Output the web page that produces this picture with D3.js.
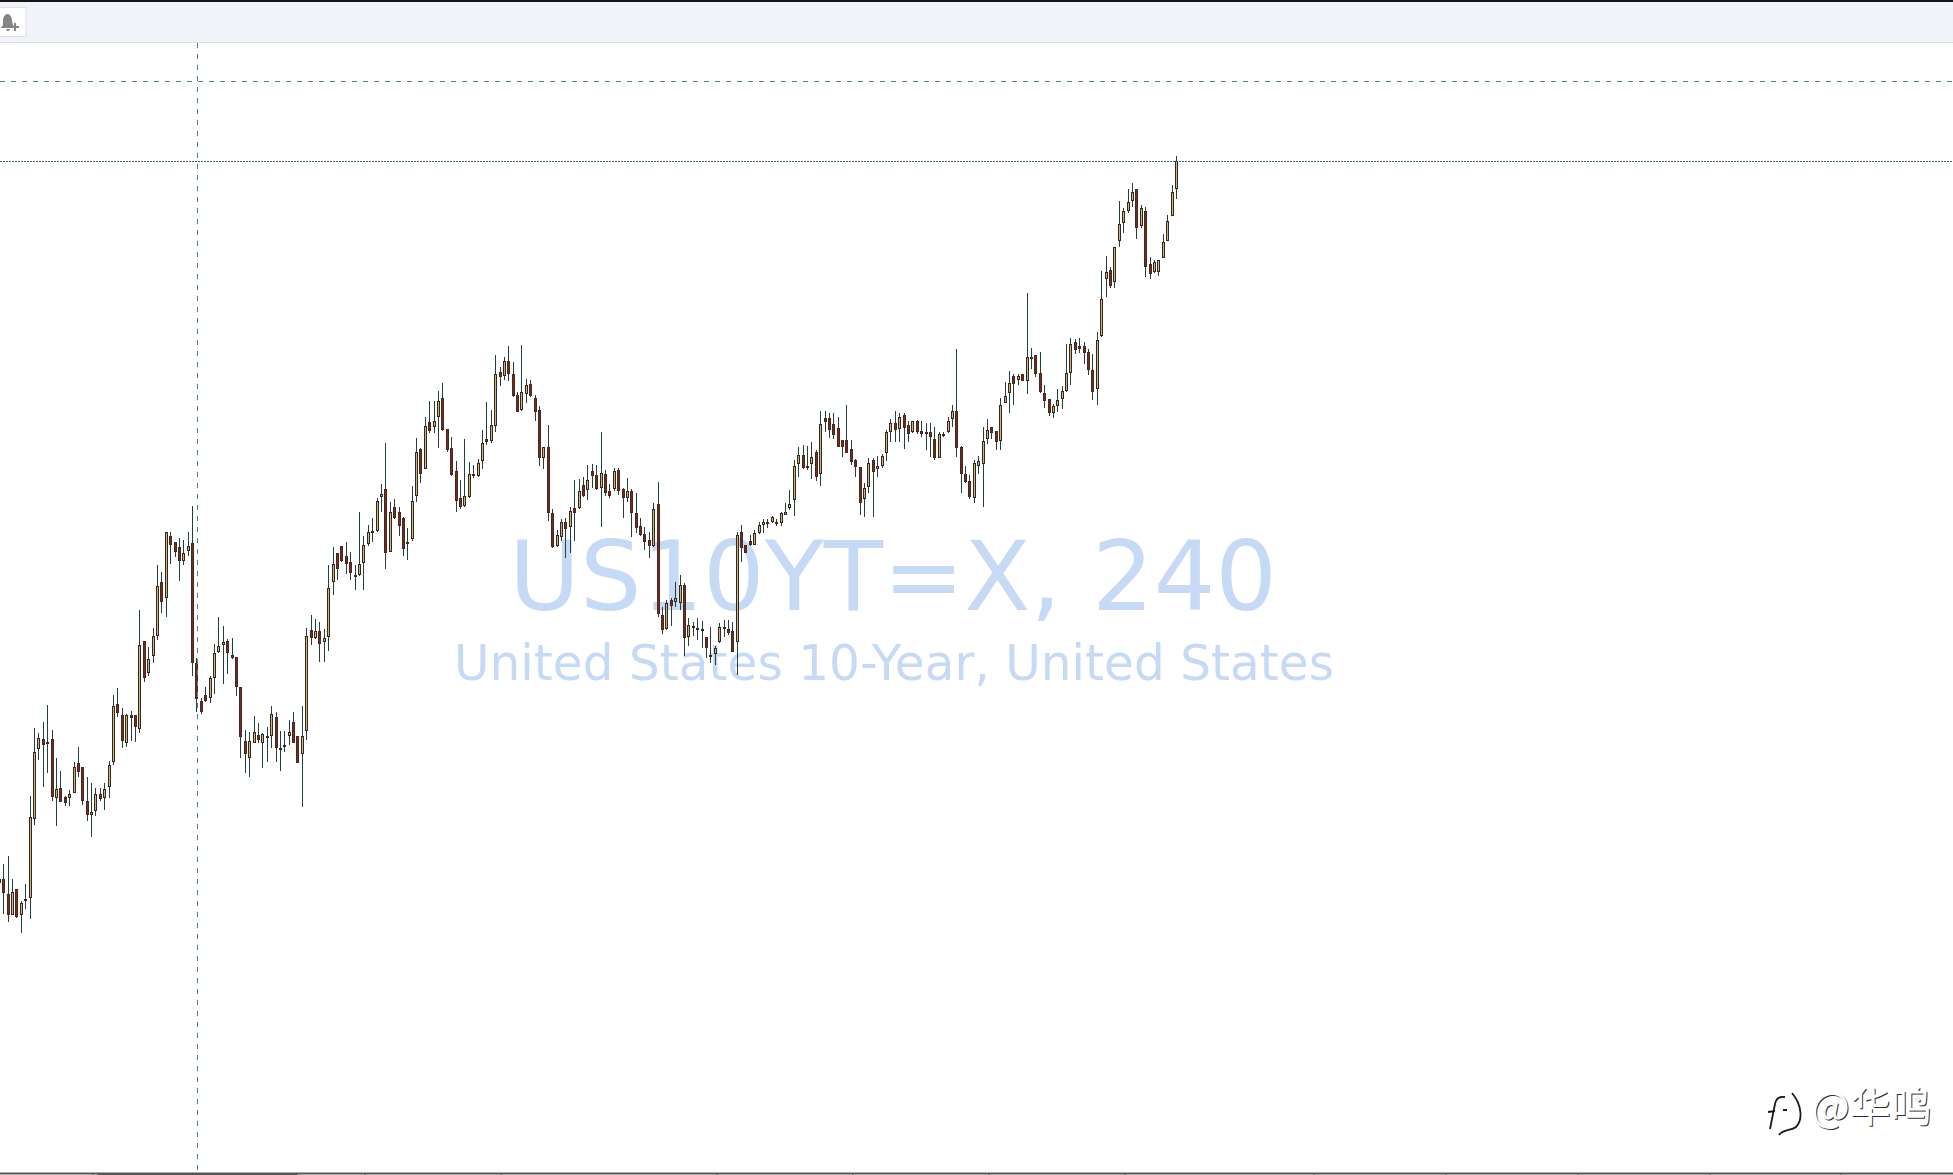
<!DOCTYPE html>
<html>
<head>
<meta charset="utf-8">
<title>US10YT=X, 240</title>
<script src="https://cdn.jsdelivr.net/npm/d3@7/dist/d3.min.js"></script>
<style>
html,body{margin:0;padding:0;background:#fff;overflow:hidden}
svg{display:block}
</style>
</head>
<body>
<svg id="chart" width="1953" height="1175"></svg>
<script>
const symbolLabel = "US10YT=X, 240";
const symbolName = "United States 10-Year, United States";
const handle = "@华鸣";

const highs = [298,311,319,296,286,274,291,379,447,442,
453,470,445,417,404,379,385,413,428,408,
398,392,387,387,392,414,480,487,467,461,
464,460,565,534,528,547,610,603,643,643,
633,637,635,643,669,517,477,488,499,531,
558,549,536,537,518,488,445,443,459,452,
442,448,469,463,444,444,455,463,439,469,
547,560,556,553,546,610,628,622,629,633,
623,610,663,639,650,657,677,691,732,673,
676,668,658,647,689,737,727,758,774,774,
784,792,746,738,714,695,736,713,710,716,
745,773,765,820,808,818,829,813,783,830,
796,795,780,769,728,750,666,645,656,657,
668,695,696,698,710,711,710,743,705,691,
707,707,687,697,686,682,657,648,643,672,
693,568,575,577,593,600,592,557,553,557,
554,538,548,529,552,555,555,553,643,650,
630,640,645,653,656,656,659,656,663,672,
685,715,728,730,729,733,725,764,764,762,
762,758,735,770,735,716,708,692,717,717,
719,721,745,756,764,762,762,754,754,755,
754,752,752,748,743,743,758,770,826,729,
709,700,715,719,748,756,748,744,777,793,
804,801,801,801,882,827,820,823,790,776,
771,786,789,831,837,836,837,833,826,821,
843,904,919,908,928,974,967,986,992,986,
970,968,918,915,915,941,960,990,1019];

const lows = [291,261,253,260,257,242,266,256,350,415,
388,402,374,349,373,369,369,382,398,370,
354,338,359,374,365,377,410,458,427,428,
434,433,442,493,499,512,535,562,558,611,
618,594,610,619,499,463,461,473,472,481,
522,491,501,516,479,417,402,398,432,432,
407,413,427,413,404,423,430,432,412,368,
435,530,536,513,513,524,580,595,613,601,
595,585,599,585,629,633,643,663,606,623,
656,639,619,615,634,673,692,706,742,742,
727,744,723,699,663,666,668,677,697,698,
706,730,732,743,789,795,794,778,763,764,
772,778,754,709,706,654,627,628,634,617,
622,634,666,678,675,687,685,648,679,677,
684,680,657,673,638,642,639,625,617,628,
558,541,545,549,568,565,519,529,539,535,
527,517,512,510,532,538,540,523,500,613,
622,629,630,641,642,647,652,649,649,660,
665,659,698,706,705,696,694,689,743,737,
736,728,718,722,710,698,660,658,682,658,
698,707,714,733,733,733,726,733,742,741,
738,725,718,715,717,738,742,748,718,682,
692,676,672,701,668,731,736,725,725,772,
762,770,790,794,781,806,798,782,767,759,
757,763,766,783,790,821,822,811,800,775,
770,838,878,887,887,928,942,962,968,936,
947,898,896,902,899,917,934,959,976];

const opens = [292,296,281,260,286,260,276,277,356,426,
436,433,436,377,387,378,377,382,412,408,
374,360,364,381,377,388,413,471,460,432,
460,460,446,534,502,519,539,593,577,639,
633,628,614,624,632,512,474,480,477,497,
523,530,534,520,518,488,434,417,432,440,
432,439,439,458,425,428,439,453,439,421,
444,545,537,544,533,538,593,622,629,619,
613,600,600,612,631,643,644,678,686,623,
668,663,657,633,636,679,726,706,753,748,
758,777,746,727,704,677,669,678,701,699,
714,736,734,749,803,799,814,801,780,765,
781,791,777,765,717,728,662,629,638,653,
648,667,667,690,685,704,700,687,701,684,
686,705,686,677,684,662,649,641,635,629,
671,560,546,575,573,572,590,538,547,545,
544,538,520,521,533,548,546,544,533,643,
630,634,630,642,650,652,653,653,652,660,
667,675,711,720,707,711,723,701,757,757,
751,747,735,735,726,715,708,676,688,715,
706,709,722,743,752,746,760,750,743,754,
744,743,743,736,717,740,743,756,764,728,
701,694,677,709,711,736,748,744,734,772,
782,799,795,801,794,818,820,802,782,776,
762,769,776,784,802,833,829,829,823,805,
786,839,896,905,893,934,952,964,974,986,
949,964,911,903,903,917,934,959,986];

const closes = [296,282,260,283,258,272,274,358,423,437,
430,431,378,386,373,372,381,408,403,374,
360,363,381,376,386,410,469,462,434,460,
457,448,530,497,516,539,589,573,643,630,
623,614,622,629,512,476,463,474,497,522,
529,533,522,517,488,438,421,434,443,435,
441,438,461,427,427,430,443,432,412,439,
539,537,544,531,537,587,611,606,614,611,
602,599,611,630,643,644,674,681,622,663,
657,649,626,632,674,723,701,749,744,754,
774,745,725,700,674,668,679,701,699,712,
732,733,750,801,798,814,801,779,763,783,
790,779,763,717,728,662,628,640,653,646,
664,662,684,679,695,699,686,702,682,679,
704,684,677,684,662,647,640,633,629,666,
561,545,572,569,577,590,537,550,549,547,
546,527,518,527,548,546,542,523,640,627,
622,630,642,650,653,653,658,651,662,663,
671,709,720,707,709,718,698,751,753,745,
740,728,728,722,713,708,672,687,712,703,
709,719,743,752,745,758,747,741,754,743,
741,742,738,717,741,741,754,764,727,701,
693,678,712,714,734,745,742,733,770,779,
792,791,799,794,818,816,801,783,774,762,
769,775,784,802,831,825,826,822,805,783,
835,876,903,889,928,951,964,973,983,947,
967,908,901,913,915,933,954,983,1014];

const alertLevel = 1094;
const lastPrice = 1014;
const crosshairBar = 45.1;
const axisTickBars = [21.2,83.1,114.1,163.3,194.2,225.2,256.2,299.2,329.3,359.3,389.4,419.2];
const highlightedBars = [22.4,67.9];

const W = 1953, H = 1175;
const svg = d3.select("#chart");
const x = d3.scaleLinear().domain([0,445]).range([-0.66,1953.78]);
const y = d3.scaleLinear().domain([0,1175]).range([1175,0]);

// toolbar
svg.append("rect").attr("width",W).attr("height",43).attr("fill","#f0f3f7");
svg.append("rect").attr("width",W).attr("height",2).attr("fill","#161616");
svg.append("rect").attr("y",42).attr("width",W).attr("height",1).attr("fill","#dbdee2");
svg.append("rect").attr("x",-2).attr("y",7.5).attr("width",28).attr("height",29)
  .attr("fill","#fff").attr("stroke","#dcdee1");
svg.append("path").attr("fill","#858585")
  .attr("d","M1 28 L3 25 L3 21 C3 17 5 14 7.5 14 C10 14 12 17 12 21 L13 25 L15 28 Z M6 29 L10 29 L9 31 L7 31 Z");
svg.append("path").attr("stroke","#858585").attr("stroke-width",2).attr("fill","none")
  .attr("d","M11 27 L19 27 M15 23 L15 31");

// symbol watermark
svg.append("text").text(symbolLabel)
  .attr("x",509).attr("y",610)
  .attr("textLength",768).attr("lengthAdjust","spacingAndGlyphs")
  .attr("font-family","DejaVu Sans").attr("font-size",97).attr("fill","#c6daf5");
svg.append("text").text(symbolName)
  .attr("x",454).attr("y",680)
  .attr("textLength",880).attr("lengthAdjust","spacingAndGlyphs")
  .attr("font-family","DejaVu Sans").attr("font-size",49).attr("fill","#c6daf5");

// candles
const idx = d3.range(highs.length);
const px = i => Math.floor(x(i));
const isUp = i => closes[i] >= opens[i];

svg.append("g").selectAll("line").data(idx).join("line")
  .attr("x1",i=>px(i)+.5).attr("x2",i=>px(i)+.5)
  .attr("y1",i=>y(highs[i])).attr("y2",i=>y(lows[i]))
  .attr("stroke","#1f423a").attr("stroke-width",1);

svg.append("g").selectAll("rect").data(idx).join("rect")
  .attr("x",i=>px(i)-.5).attr("width",2)
  .attr("y",i=>Math.round(y(Math.max(opens[i],closes[i])))+.5)
  .attr("height",i=>Math.max(1,Math.round(Math.abs(opens[i]-closes[i]))-1))
  .attr("fill",i=>isUp(i)?"#c9b688":"#7a2a20")
  .attr("stroke",i=>isUp(i)?"#35271a":"#4a271c")
  .attr("stroke-width",1);

// levels and crosshair
const lineColor = "#4f8290";
svg.append("line").attr("x1",0).attr("x2",W)
  .attr("y1",Math.round(y(alertLevel))+.5).attr("y2",Math.round(y(alertLevel))+.5)
  .attr("stroke",lineColor).attr("stroke-dasharray","5 6");
svg.append("line").attr("x1",0).attr("x2",W)
  .attr("y1",Math.round(y(lastPrice))+.5).attr("y2",Math.round(y(lastPrice))+.5)
  .attr("stroke","#40606c").attr("stroke-dasharray","2 1");
const cx = Math.floor(x(crosshairBar))+.5;
svg.append("line").attr("x1",cx).attr("x2",cx).attr("y1",43).attr("y2",1173)
  .attr("stroke",lineColor).attr("stroke-dasharray","5 6");

// time axis
const axis = d3.axisBottom(x).tickValues(axisTickBars).tickSize(2).tickSizeOuter(0).tickFormat("");
const axisG = svg.append("g").attr("transform","translate(0,1173)").call(axis);
axisG.select(".domain").attr("stroke","#565656").attr("stroke-width",2).attr("d","M0,0.5H"+W);
axisG.selectAll(".tick line").attr("stroke","#565656");
svg.append("rect")
  .attr("x",x(highlightedBars[0])).attr("y",1173)
  .attr("width",x(highlightedBars[1])-x(highlightedBars[0])).attr("height",2)
  .attr("fill","#565656");

// author mark
const mark = svg.append("g");
[{dx:1,dy:1,f:"#2e2e2e"},{dx:0,dy:0,f:"#ffffff"}].forEach(s=>{
  mark.append("text").text(handle)
    .attr("x",1811+s.dx).attr("y",1122+s.dy)
    .attr("font-family","Noto Sans CJK SC").attr("font-size",41)
    .attr("fill",s.f);
});
mark.append("path").attr("fill","none").attr("stroke","#1a1a1a").attr("stroke-width",1.8)
  .attr("d","M1785 1097 C1779 1096 1776 1099 1775 1104 L1770 1129 M1768 1112 L1775 1111 M1783 1110 L1787 1110 M1792 1093 C1802 1105 1803 1120 1796 1127 C1791 1131 1783 1129 1779 1135");
</script>
</body>
</html>
